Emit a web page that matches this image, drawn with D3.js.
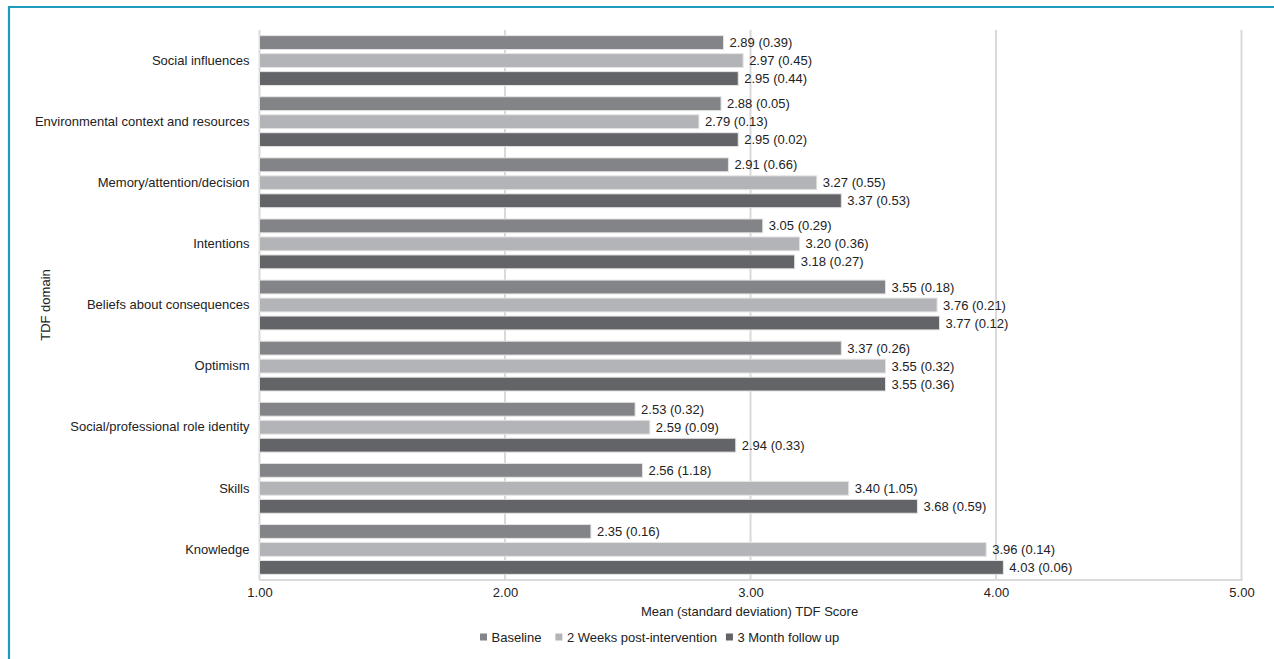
<!DOCTYPE html>
<html>
<head>
<meta charset="utf-8">
<script src="https://cdn.jsdelivr.net/npm/d3@7"></script>
<style>
  html, body { margin: 0; padding: 0; background: #fff; }
  svg { display: block; font-family: "Liberation Sans", Arial, sans-serif; }
</style>
</head>
<body>
<svg id="chart" width="1274" height="659"></svg>
<script>
const categories = [
  "Social influences",
  "Environmental context and resources",
  "Memory/attention/decision",
  "Intentions",
  "Beliefs about consequences",
  "Optimism",
  "Social/professional role identity",
  "Skills",
  "Knowledge"
];
const seriesNames = ["Baseline", "2 Weeks post-intervention", "3 Month follow up"];
const baselineMean = [2.89, 2.88, 2.91, 3.05, 3.55, 3.37, 2.53, 2.56, 2.35];
const baselineSD   = [0.39, 0.05, 0.66, 0.29, 0.18, 0.26, 0.32, 1.18, 0.16];
const weeks2Mean   = [2.97, 2.79, 3.27, 3.20, 3.76, 3.55, 2.59, 3.40, 3.96];
const weeks2SD     = [0.45, 0.13, 0.55, 0.36, 0.21, 0.32, 0.09, 1.05, 0.14];
const month3Mean   = [2.95, 2.95, 3.37, 3.18, 3.77, 3.55, 2.94, 3.68, 4.03];
const month3SD     = [0.44, 0.02, 0.53, 0.27, 0.12, 0.36, 0.33, 0.59, 0.06];
const xTicks = [1, 2, 3, 4, 5];

const colors = ["#838487", "#b3b4b7", "#636467"];
const means = [baselineMean, weeks2Mean, month3Mean];
const sds = [baselineSD, weeks2SD, month3SD];

const svg = d3.select("#chart");
const W = 1274, H = 659;
const plot = { left: 259.5, right: 1241.5, top: 30, bottom: 580 };

// frame
svg.append("line").attr("x1", 9).attr("x2", W).attr("y1", 7).attr("y2", 7)
  .attr("stroke", "#1e9bbd").attr("stroke-width", 2.2);
svg.append("line").attr("x1", 9).attr("x2", 9).attr("y1", 6).attr("y2", H)
  .attr("stroke", "#1e9bbd").attr("stroke-width", 2.2);

const x = d3.scaleLinear().domain([1, 5]).range([plot.left, plot.right]);
const y = d3.scaleBand().domain(categories).range([plot.top, plot.bottom]).padding(0);
const inner = d3.scaleBand().domain(seriesNames)
  .range([y.bandwidth() * 0.063, y.bandwidth() * 0.937]).paddingInner(0.23).paddingOuter(0.1);

// gridlines
svg.append("g").selectAll("line").data(xTicks).join("line")
  .attr("x1", d => x(d)).attr("x2", d => x(d))
  .attr("y1", plot.top).attr("y2", plot.bottom)
  .attr("stroke", "#d9d9d9").attr("stroke-width", 2);
svg.append("line").attr("x1", plot.left).attr("x2", plot.right + 1)
  .attr("y1", plot.bottom).attr("y2", plot.bottom)
  .attr("stroke", "#d9d9d9").attr("stroke-width", 2);

// x axis tick labels
const xAxis = d3.axisBottom(x).tickValues(xTicks).tickFormat(d3.format(".2f")).tickSize(0).tickPadding(8);
const gx = svg.append("g").attr("transform", `translate(0,${plot.bottom})`).call(xAxis);
gx.select(".domain").remove();
gx.selectAll("text").attr("font-size", 13).attr("fill", "#222")
  .attr("font-family", "Liberation Sans, Arial, sans-serif");

// y axis labels
const yAxis = d3.axisLeft(y).tickSize(0).tickPadding(10);
const gy = svg.append("g").attr("transform", `translate(${plot.left},0)`).call(yAxis);
gy.select(".domain").remove();
gy.selectAll("text").attr("font-size", 13).attr("fill", "#222")
  .attr("font-family", "Liberation Sans, Arial, sans-serif");

// bars
const groups = svg.append("g").selectAll("g").data(categories).join("g")
  .attr("transform", d => `translate(0,${y(d)})`);
seriesNames.forEach((s, si) => {
  groups.append("rect")
    .attr("x", plot.left)
    .attr("y", inner(s))
    .attr("width", (d, i) => x(means[si][i]) - x(1))
    .attr("height", inner.bandwidth())
    .attr("fill", colors[si])
    .attr("stroke", "#e4e4e4").attr("stroke-width", 1);
  groups.append("text")
    .attr("x", (d, i) => x(means[si][i]) + 6)
    .attr("y", inner(s) + inner.bandwidth() / 2)
    .attr("dy", "0.35em")
    .attr("font-size", 13).attr("fill", "#222")
    .text((d, i) => `${means[si][i].toFixed(2)} (${sds[si][i].toFixed(2)})`);
});

// axis titles
svg.append("text").attr("x", 749.5).attr("y", 611).attr("dy", "0.35em")
  .attr("text-anchor", "middle").attr("font-size", 13).attr("fill", "#222")
  .text("Mean (standard deviation) TDF Score");
svg.append("text").attr("transform", "translate(45,305) rotate(-90)")
  .attr("dy", "0.35em").attr("text-anchor", "middle").attr("font-size", 13).attr("fill", "#222")
  .text("TDF domain");

// legend
const legend = svg.append("g").attr("transform", "translate(480,637)");
const gaps = [14, 9];
let lx = 0;
seriesNames.forEach((s, si) => {
  const g = legend.append("g").attr("transform", `translate(${lx},0)`);
  g.append("rect").attr("x", 0).attr("y", -3.5).attr("width", 7).attr("height", 7).attr("fill", colors[si]);
  const t = g.append("text").attr("x", 11.5).attr("dy", "0.35em").attr("font-size", 13).attr("fill", "#222").text(s);
  lx += 11.5 + t.node().getComputedTextLength() + (gaps[si] || 0);
});
</script>
</body>
</html>
